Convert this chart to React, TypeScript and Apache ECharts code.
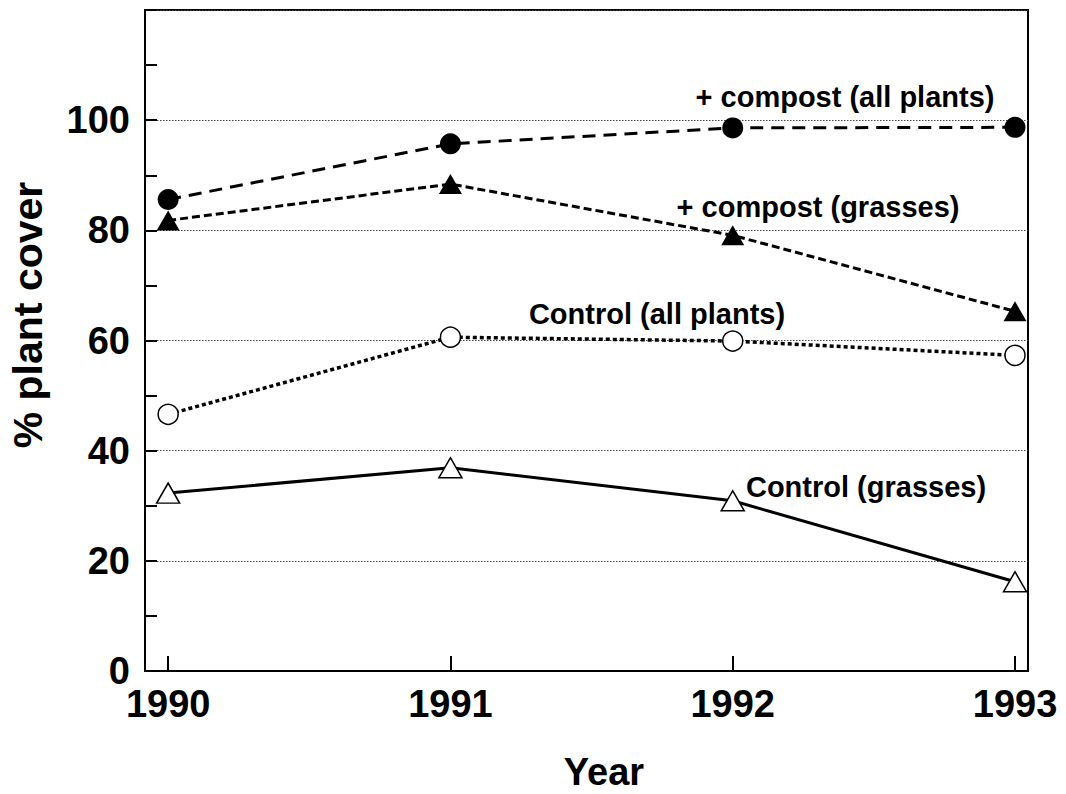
import React, { useEffect, useRef } from "react";
import * as echarts from "echarts";

const years = [1990, 1991, 1992, 1993];
const compostAll = [85.6, 95.7, 98.6, 98.7];
const compostGrasses = [81.8, 88.4, 79.1, 65.3];
const controlAll = [46.6, 60.6, 59.9, 57.3];
const controlGrasses = [32.3, 36.9, 30.9, 16.2];
const yLabels = [0, 20, 40, 60, 80, 100];

const FONT = "'Liberation Sans', Arial, Helvetica, sans-serif";

const pts = (vals: number[]) => years.map((y, i) => [y, vals[i]]);

export default function App() {
  const ref = useRef<HTMLDivElement>(null);
  useEffect(() => {
    if (!ref.current) return;
    const chart = echarts.init(ref.current, undefined, { renderer: "svg" });
    const lineBase = { type: "line", symbolKeepAspect: true, z: 3 };
    const ann = (text: string, x: number, y: number) => ({
      type: "text",
      x,
      y,
      style: { text, fill: "#000", font: `bold 29px ${FONT}`, align: "center", verticalAlign: "middle" },
    });
    chart.setOption({
      animation: false,
      backgroundColor: "#fff",
      grid: {
        left: 145,
        right: 38,
        top: 10,
        bottom: 123,
        show: true,
        borderColor: "#000",
        borderWidth: 2,
        backgroundColor: "transparent",
      },
      xAxis: {
        type: "value",
        min: 1989.918,
        max: 1993.046,
        axisLine: { show: true, lineStyle: { color: "#000", width: 2 } },
        axisTick: {
          show: true,
          inside: true,
          length: 15,
          customValues: years,
          lineStyle: { color: "#000", width: 2 },
        },
        axisLabel: {
          customValues: years,
          formatter: (v: number) => String(v),
          color: "#000",
          fontFamily: FONT,
          fontWeight: "bold",
          fontSize: 38,
          margin: 14,
        },
        splitLine: { show: false },
      },
      yAxis: {
        type: "value",
        min: 0,
        max: 120,
        interval: 20,
        axisLine: { show: true, lineStyle: { color: "#000", width: 2 } },
        axisTick: { show: true, inside: true, length: 12, lineStyle: { color: "#000", width: 2 } },
        minorTick: { show: true, splitNumber: 2, length: 12, lineStyle: { color: "#000", width: 2 } },
        axisLabel: {
          customValues: yLabels,
          color: "#000",
          fontFamily: FONT,
          fontWeight: "bold",
          fontSize: 38,
          margin: 15,
        },
        splitLine: { show: true, lineStyle: { color: "#444", width: 1, type: [1.5, 1.5] } },
      },
      series: [
        {
          ...lineBase,
          name: "+ compost (all plants)",
          data: pts(compostAll),
          symbol: "circle",
          symbolSize: 21,
          itemStyle: { color: "#000" },
          lineStyle: { color: "#000", width: 3, type: [13, 8] },
        },
        {
          ...lineBase,
          name: "+ compost (grasses)",
          data: pts(compostGrasses),
          symbol: "triangle",
          symbolSize: [23, 20],
          itemStyle: { color: "#000" },
          lineStyle: { color: "#000", width: 3, type: [8, 4] },
        },
        {
          ...lineBase,
          name: "Control (all plants)",
          data: pts(controlAll),
          symbol: "circle",
          symbolSize: 20,
          itemStyle: { color: "#fff", borderColor: "#000", borderWidth: 1.5 },
          lineStyle: { color: "#000", width: 3.5, type: [4, 3] },
        },
        {
          ...lineBase,
          name: "Control (grasses)",
          data: pts(controlGrasses),
          symbol: "triangle",
          symbolSize: [23, 20],
          itemStyle: { color: "#fff", borderColor: "#000", borderWidth: 1.5 },
          lineStyle: { color: "#000", width: 3 },
        },
      ],
      graphic: [
        {
          type: "text",
          x: 28,
          y: 315,
          rotation: Math.PI / 2,
          style: {
            text: "% plant cover",
            fill: "#000",
            font: `bold 41px ${FONT}`,
            align: "center",
            verticalAlign: "middle",
          },
        },
        {
          type: "text",
          x: 604,
          y: 772,
          style: {
            text: "Year",
            fill: "#000",
            font: `bold 38px ${FONT}`,
            align: "center",
            verticalAlign: "middle",
          },
        },
        ann("+ compost (all plants)", 845, 97),
        ann("+ compost (grasses)", 818, 207),
        ann("Control (all plants)", 657, 314),
        ann("Control (grasses)", 866, 487),
      ],
    });
    return () => chart.dispose();
  }, []);
  return (
    <div
      ref={ref}
      style={{ position: "fixed", left: 0, top: 0, width: 1066, height: 794, background: "#fff" }}
    />
  );
}
